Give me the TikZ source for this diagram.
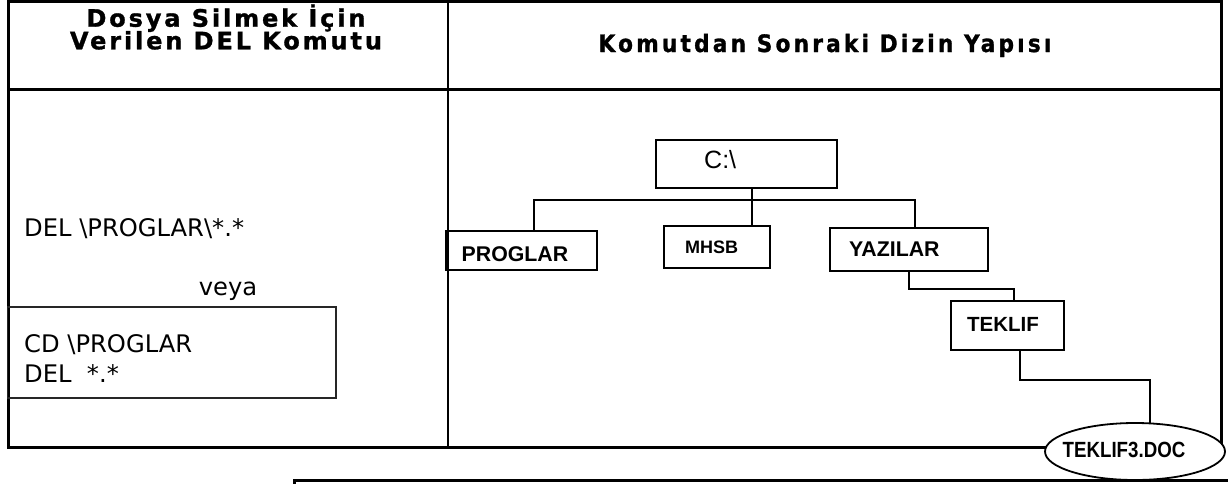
\documentclass[tikz,border=0pt]{standalone}
\usepackage{fontspec}
\usepackage{graphicx}
\setmainfont{DejaVu Sans}
\newfontfamily\verd{DejaVu Sans}
\newfontfamily\hdrA[LetterSpace=12,FakeBold=1.2]{DejaVu Sans Bold}
\newfontfamily\hdrB[LetterSpace=13.5,FakeBold=1.2]{DejaVu Sans Condensed Bold}
\newfontfamily\ari{Liberation Sans}
\usetikzlibrary{shapes.geometric}
\begin{document}
\begin{tikzpicture}[x=1pt,y=-1pt,
  tbl/.style={line width=3pt},
  dbox/.style={draw,line width=1.8pt,inner sep=0pt},
  conn/.style={line width=1.3pt},
  lbl/.style={inner sep=0pt,anchor=base west},
  hdrleft/.style={inner sep=0pt,anchor=base,font=\hdrA\fontsize{24}{24}\selectfont},
  hdrright/.style={inner sep=0pt,anchor=base,font=\hdrB\fontsize{24}{24}\selectfont},
  body/.style={lbl,font=\verd\fontsize{24.2}{28}\selectfont},
  treebold/.style={lbl,font=\ari\bfseries\fontsize{20.5}{24}\selectfont}]
\useasboundingbox (0,0) rectangle (1228,483);
\fill[white] (0,0) rectangle (1228,483);

% table
\draw[tbl] (8.7,1.5) rectangle (1221,447);
\draw[tbl] (8.7,89) -- (1221,89);
\draw[line width=2pt] (448,1.5) -- (448,447);

% lower partial box
\draw[line width=3pt] (294,495) -- (294,480) -- (1240,480);

% headers
\node[hdrleft] (h1a) at (226,26.7) {Dosya Silmek İçin};
\node[hdrleft] (h1b) at (226,49.3) {Verilen DEL Komutu};
\node[hdrright] (h2) at (825,52) {Komutdan Sonraki Dizin Yapısı};

% left column
\node[body] (del1) at (24,236.7) {DEL \textbackslash PROGLAR\textbackslash *.*};
\node[body,anchor=base] (veya) at (228,295) {veya};
\node[draw=black!85,line width=1.5pt,inner sep=0pt,minimum width=328.5pt,minimum height=91pt] (cdbox) at (171.7,352.5) {};
\node[body] (cd) at (24,352.5) {CD \textbackslash PROGLAR};
\node[body] (del2) at (24,382.5) {DEL\ \ *.*};

% tree boxes
\node[dbox,minimum width=181pt,minimum height=48pt] (root) at (746.2,164) {};
\node[lbl,font=\ari\fontsize{25}{28}\selectfont] (troot) at (704,168.3) {C:\textbackslash};
\node[dbox,minimum width=150.7pt,minimum height=39.3pt] (prog) at (521.3,250.3) {};
\node[lbl,font=\ari\bfseries\fontsize{21.3}{24}\selectfont] (tprog) at (461.5,261) {PROGLAR};
\node[dbox,minimum width=106pt,minimum height=42pt] (mhsb) at (717,247) {};
\node[lbl,font=\ari\bfseries\fontsize{18}{22}\selectfont] (tmhsb) at (685,253.3) {MHSB};
\node[dbox,minimum width=158pt,minimum height=43pt] (yaz) at (909,249.5) {};
\node[lbl,font=\ari\bfseries\fontsize{21.3}{24}\selectfont] (tyaz) at (849,256) {YAZILAR};
\node[dbox,minimum width=113.3pt,minimum height=49.3pt] (tek) at (1007.3,325.3) {};
\node[treebold] (ttek) at (967,331.7) {TEKLIF};

% connector junctions
\coordinate (jL) at (534,200);
\coordinate (jM) at (752,200);
\coordinate (jR) at (915,200);
\coordinate (jY) at (909,289);
\coordinate (jT) at (1014,289);
\coordinate (jK) at (1020,380);
\coordinate (jD) at (1150,380);

\draw[conn] (root.south -| jM) -- (mhsb.north -| jM);
\draw[conn] (prog.north -| jL) -- (jL) -- (jR) -- (yaz.north -| jR);
\draw[conn] (yaz.south -| jY) -- (jY) -- (jT) -- (tek.north -| jT);
\draw[conn] (tek.south -| jK) -- (jK) -- (jD) -- (1150,423.5);

% file ellipse
\node[ellipse,draw,fill=white,line width=1.8pt,minimum width=180pt,minimum height=57pt,inner sep=0pt] (doc) at (1135,451.5) {};
\node[inner sep=0pt,anchor=base,font=\ari\bfseries\fontsize{22}{24}\selectfont] (tdoc) at (1124,457) {\scalebox{0.85}[1]{TEKLIF3.DOC}};
\end{tikzpicture}
\end{document}
